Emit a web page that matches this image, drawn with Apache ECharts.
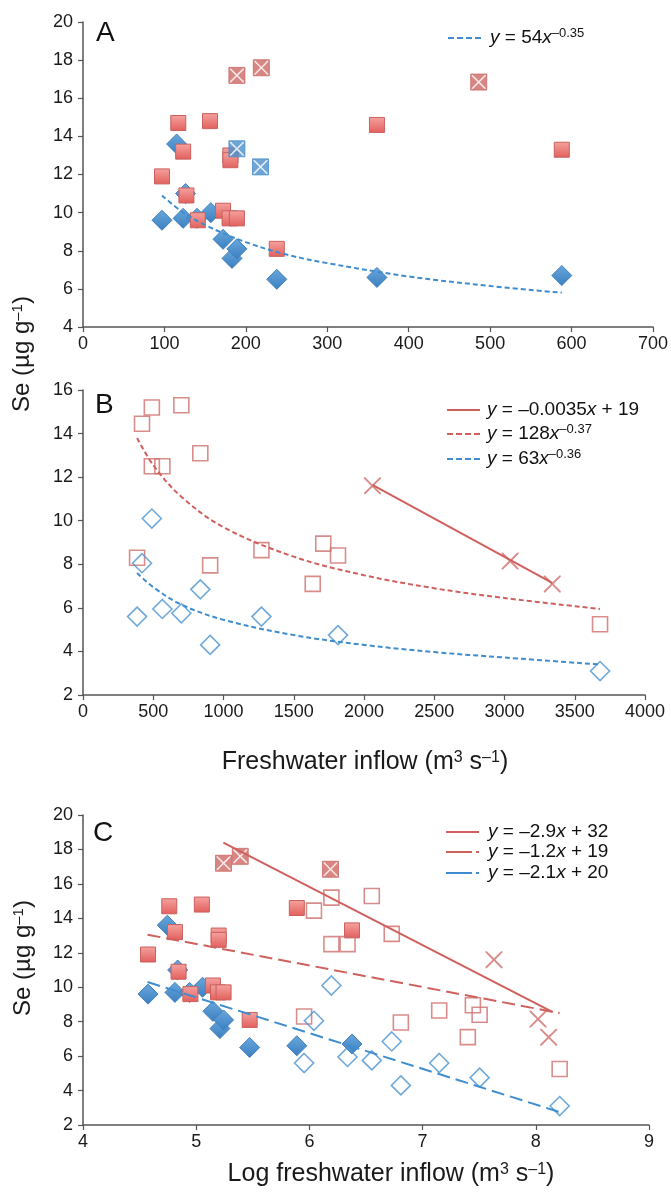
<!DOCTYPE html>
<html>
<head>
<meta charset="utf-8">
<script src="https://cdn.jsdelivr.net/npm/echarts@6/dist/echarts.min.js"></script>
<style>
html,body{margin:0;padding:0;background:#fff;}
#chart{width:671px;height:1194px;}
</style>
</head>
<body>
<div id="chart"></div>
<script>
// ---------- Panel A data (freshwater inflow, Se) ----------
const blueDiamondA = [[97,9.6],[115,13.6],[126,11.0],[123,9.7],[140,9.7],[157,10.0],[172,8.6],[183,7.6],[189,8.1],[238,6.5],[361,6.6],[588,6.7]];
const blueXSquareA = [[189,13.35],[218,12.4]];
const redSquareA = [[97,11.9],[117,14.7],[123,13.2],[127,10.9],[141,9.6],[156,14.8],[172,10.1],[181,13.0],[181,12.75],[180,9.7],[189,9.7],[238,8.1],[361,14.6],[588,13.3]];
const redXSquareA = [[189,17.2],[219,17.6],[486,16.85]];
const trendA = [[97,10.9],[120,10.1],[150,9.35],[200,8.45],[250,7.8],[300,7.35],[400,6.65],[500,6.15],[588,5.8]];

// ---------- Panel B data ----------
const redOpenB = [[420,14.45],[490,15.2],[700,15.3],[835,13.1],[490,12.5],[565,12.5],[385,8.3],[905,7.95],[1270,8.65],[1710,8.95],[1815,8.4],[1635,7.1],[3680,5.25]];
const blueOpenB = [[490,10.1],[420,8.05],[385,5.6],[565,5.95],[700,5.75],[835,6.85],[905,4.3],[1270,5.6],[1815,4.75],[3680,3.1]];
const redCrossB = [[2060,11.6],[3040,8.15],[3340,7.1]];
const lineB_X = [[2060,11.65],[3340,7.15]];
const trendB_red = [[385,13.8],[500,12.55],[700,11.1],[1000,9.7],[1500,8.35],[2000,7.5],[2500,6.9],[3000,6.45],[3680,5.95]];
const trendB_blue = [[385,7.6],[500,6.95],[700,6.15],[1000,5.45],[1500,4.75],[2000,4.3],[2500,3.97],[3000,3.72],[3680,3.4]];

// ---------- Panel C fit lines (log inflow) ----------
const lineC_X = [[5.24,18.4],[8.15,8.55]];
const lineC_red = [[4.57,13.05],[8.21,8.5]];
const lineC_blue = [[4.57,10.3],[8.21,2.75]];

// ---------- Axis ticks ----------
const xTicksA = {min:0,max:700,interval:100};
const yTicksA = {min:4,max:20,interval:2};
const xTicksB = {min:0,max:4000,interval:500};
const yTicksB = {min:2,max:16,interval:2};
const xTicksC = {min:4,max:9,interval:1};
const yTicksC = {min:2,max:20,interval:2};

// Panel C uses natural log of the inflow values from A and B
const toLog = arr => arr.map(p => [Math.log(p[0]), p[1]]);

const F = '"Liberation Sans", Arial, Helvetica, sans-serif';
const RED = '#cf605d';
const RED_OPEN = '#d0716e';
const BLUE = '#3f8dcf';
const AXIS = '#555';

const X_PATH = 'path://M0,0 L8,0 L50,42 L92,0 L100,0 L100,8 L58,50 L100,92 L100,100 L92,100 L50,58 L8,100 L0,100 L0,92 L42,50 L0,8 Z';

const redFill = new echarts.graphic.LinearGradient(0,0,0,1,[{offset:0,color:'#f5a3a0'},{offset:1,color:'#e25f5c'}]);
const blueFill = new echarts.graphic.LinearGradient(0,0,0,1,[{offset:0,color:'#6aa8dc'},{offset:1,color:'#3a7fc0'}]);

function axisX(idx, t){
  return {gridIndex:idx, type:'value', min:t.min, max:t.max, interval:t.interval,
    axisLine:{show:true,onZero:false,lineStyle:{color:AXIS,width:1.5}},
    axisTick:{show:true,length:5,lineStyle:{color:AXIS,width:1.2}},
    axisLabel:{color:'#1a1a1a',fontSize:18,fontFamily:F,margin:8,formatter:v=>String(v)},
    splitLine:{show:false}};
}
function axisY(idx, t){
  return {gridIndex:idx, type:'value', min:t.min, max:t.max, interval:t.interval,
    axisLine:{show:true,onZero:false,lineStyle:{color:AXIS,width:1.5}},
    axisTick:{show:true,length:5,lineStyle:{color:AXIS,width:1.2}},
    axisLabel:{color:'#1a1a1a',fontSize:18,fontFamily:F,margin:10,formatter:v=>String(v)},
    splitLine:{show:false}};
}

function redSquares(data, idx, z){
  return {type:'scatter', xAxisIndex:idx, yAxisIndex:idx, data, symbol:'rect', symbolSize:15, z,
    itemStyle:{color:redFill, borderColor:'#c9605d', borderWidth:1, opacity:1}, silent:true};
}
function blueDiamonds(data, idx, z){
  return {type:'scatter', xAxisIndex:idx, yAxisIndex:idx, data, symbol:'diamond', symbolSize:[20,20], z,
    itemStyle:{color:blueFill, borderColor:'#3f7fbd', borderWidth:1, opacity:1}, silent:true};
}
function xSquares(data, idx, color, z){
  return [
    {type:'scatter', xAxisIndex:idx, yAxisIndex:idx, data, symbol:'rect', symbolSize:16, z,
      itemStyle:{color, borderColor:color, borderWidth:1}, silent:true},
    {type:'scatter', xAxisIndex:idx, yAxisIndex:idx, data, symbol:X_PATH, symbolSize:14, z:z+0.1,
      itemStyle:{color:'#ffffff'}, silent:true}
  ];
}
function openSquares(data, idx, z){
  return {type:'scatter', xAxisIndex:idx, yAxisIndex:idx, data, symbol:'rect', symbolSize:15, z,
    itemStyle:{color:'rgba(255,255,255,0)', borderColor:RED_OPEN, borderWidth:1.6}, silent:true};
}
function openDiamonds(data, idx, z){
  return {type:'scatter', xAxisIndex:idx, yAxisIndex:idx, data, symbol:'diamond', symbolSize:[19,19], z,
    itemStyle:{color:'rgba(255,255,255,0)', borderColor:'#4b93d0', borderWidth:1.6}, silent:true};
}
function crosses(data, idx, z){
  return {type:'scatter', xAxisIndex:idx, yAxisIndex:idx, data, symbol:X_PATH, symbolSize:17, z,
    itemStyle:{color:RED_OPEN}, silent:true};
}
function line(data, idx, color, dash, smooth, z){
  return {type:'line', xAxisIndex:idx, yAxisIndex:idx, data, showSymbol:false, symbol:'none', smooth:smooth, z,
    lineStyle:{color, width:2, type:dash}, silent:true};
}

function eq(text, x, y){
  return {type:'text', x, y, silent:true,
    style:{text, fontFamily:F, fontSize:19, fill:'#111', verticalAlign:'middle', align:'left',
      rich:{
        n:{fontFamily:F,fontSize:19,fill:'#111',lineHeight:21,verticalAlign:'bottom'},
        i:{fontFamily:F,fontSize:19,fontStyle:'italic',fill:'#111',lineHeight:21,verticalAlign:'bottom'},
        s:{fontFamily:F,fontSize:13,fill:'#111',lineHeight:13,verticalAlign:'top'}
      }}};
}
function key(x1,x2,y,color,dash){
  return {type:'line', silent:true, shape:{x1,y1:y,x2,y2:y}, style:{stroke:color, lineWidth:2.2, lineDash:dash}};
}
function label(text, x, y, size, rot){
  const ss = Math.round(size*0.64);
  return {type:'text', x, y, rotation:rot||0, silent:true,
    style:{text, fontFamily:F, fontSize:size, fill:'#1a1a1a', align:'center', verticalAlign:'middle',
      rich:{
        n:{fontFamily:F,fontSize:size,fill:'#1a1a1a',lineHeight:size,verticalAlign:'bottom'},
        s:{fontFamily:F,fontSize:ss,fill:'#1a1a1a',lineHeight:ss,verticalAlign:'top'}
      }}};
}

const series = [];
// Panel A
series.push(blueDiamonds(blueDiamondA,0,2));
series.push(redSquares(redSquareA,0,3));
series.push(...xSquares(blueXSquareA,0,'#4a8fcb',4));
series.push(...xSquares(redXSquareA,0,'#cd6864',4));
series.push(line(trendA,0,BLUE,[5,3],0.35,6));
// Panel B
series.push(openSquares(redOpenB,1,3));
series.push(openDiamonds(blueOpenB,1,3));
series.push(crosses(redCrossB,1,4));
series.push(line(lineB_X,1,RED,'solid',false,5));
series.push(line(trendB_red,1,RED,[5,3],0.35,5));
series.push(line(trendB_blue,1,BLUE,[5,3],0.35,5));
// Panel C
series.push(blueDiamonds(toLog(blueDiamondA),2,2));
series.push(redSquares(toLog(redSquareA),2,3));
series.push(...xSquares(toLog(redXSquareA),2,'#cd6864',4));
series.push(openSquares(toLog(redOpenB),2,3));
series.push(openDiamonds(toLog(blueOpenB),2,3));
series.push(crosses(toLog(redCrossB),2,4));
series.push(line(lineC_X,2,RED,'solid',false,5));
series.push(line(lineC_red,2,RED,[13,6],false,5));
series.push(line(lineC_blue,2,BLUE,[13,6],false,5));

const option = {
  animation:false,
  backgroundColor:'#ffffff',
  grid:[
    {left:83, right:18, top:22, bottom:867, containLabel:false},
    {left:83, right:26, top:390, bottom:499, containLabel:false},
    {left:83, right:22, top:815, bottom:69, containLabel:false}
  ],
  xAxis:[axisX(0,xTicksA), axisX(1,xTicksB), axisX(2,xTicksC)],
  yAxis:[axisY(0,yTicksA), axisY(1,yTicksB), axisY(2,yTicksC)],
  series,
  graphic:{elements:[
    // panel letters
    {type:'text', x:96, y:33, silent:true, style:{text:'A', fontFamily:F, fontSize:28, fill:'#111', verticalAlign:'middle'}},
    {type:'text', x:95, y:405, silent:true, style:{text:'B', fontFamily:F, fontSize:28, fill:'#111', verticalAlign:'middle'}},
    {type:'text', x:93, y:833, silent:true, style:{text:'C', fontFamily:F, fontSize:28, fill:'#111', verticalAlign:'middle'}},
    // legend A
    key(448,482,38,BLUE,[6,3]),
    eq('{i|y}{n| = 54}{i|x}{s|–0.35}',490,37),
    // legend B
    key(447,480,410,RED,null),
    eq('{i|y}{n| = –0.0035}{i|x}{n| + 19}',487,409),
    key(447,480,434,RED,[6,3]),
    eq('{i|y}{n| = 128}{i|x}{s|–0.37}',487,433),
    key(447,480,459,BLUE,[6,3]),
    eq('{i|y}{n| = 63}{i|x}{s|–0.36}',487,458),
    // legend C
    key(446,479,832,RED,null),
    eq('{i|y}{n| = –2.9}{i|x}{n| + 32}',488,831),
    key(446,479,852,RED,[26,4,4,60]),
    eq('{i|y}{n| = –1.2}{i|x}{n| + 19}',488,851),
    key(446,479,873,BLUE,[26,4,4,60]),
    eq('{i|y}{n| = –2.1}{i|x}{n| + 20}',488,872),
    // axis titles
    label('{n|Se (µg g}{s|–1}{n|)}',22,354,24,Math.PI/2),
    label('{n|Se (µg g}{s|–1}{n|)}',23,958,24,Math.PI/2),
    label('{n|Freshwater inflow (m}{s|3}{n| s}{s|–1}{n|)}',365,762,25,0),
    label('{n|Log freshwater inflow (m}{s|3}{n| s}{s|–1}{n|)}',391,1174,25,0)
  ]}
};

const chart = echarts.init(document.getElementById('chart'), null, {renderer:'canvas', width:671, height:1194});
chart.setOption(option);
</script>
</body>
</html>
